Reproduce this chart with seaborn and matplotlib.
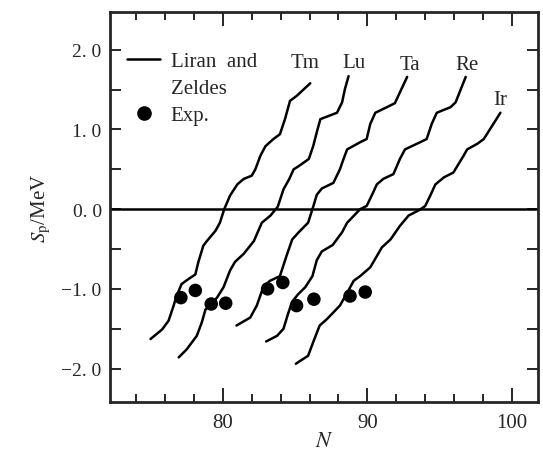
import numpy as np
import pandas as pd
import seaborn as sns
import matplotlib.pyplot as plt
from matplotlib.lines import Line2D

# Liran-Zeldes curves (N, Sp in MeV)
tm_n = [75.0, 75.8, 76.25, 76.6, 76.8, 77.15, 77.6, 78.1, 78.3, 78.65, 78.9, 79.5, 79.8, 80.1,
        80.5, 81.0, 81.45, 82.0, 82.25, 82.6, 82.95, 83.5, 83.95, 84.3, 84.65, 85.1, 86.05]
tm_sp = [-1.63, -1.51, -1.40, -1.21, -1.09, -0.94, -0.88, -0.82, -0.67, -0.46, -0.40, -0.27, -0.17, 0.0,
         0.17, 0.31, 0.38, 0.42, 0.50, 0.67, 0.79, 0.88, 0.94, 1.13, 1.36, 1.42, 1.58]

lu_n = [76.95, 77.5, 78.2, 78.55, 78.8, 79.1, 79.6, 80.05, 80.5, 80.85, 81.45, 82.15, 82.7, 83.3,
        83.8, 84.2, 84.6, 84.9, 85.25, 85.95, 86.25, 86.55, 86.75, 87.9, 88.25, 88.45, 88.7]
lu_sp = [-1.86, -1.76, -1.59, -1.42, -1.26, -1.21, -1.11, -0.98, -0.77, -0.66, -0.56, -0.40, -0.17, -0.08,
         0.03, 0.25, 0.38, 0.50, 0.54, 0.63, 0.79, 1.00, 1.13, 1.21, 1.34, 1.51, 1.67]

ta_n = [80.95, 81.9, 82.35, 82.8, 83.25, 83.95, 84.4, 84.8, 85.25, 85.9, 86.2, 86.5, 86.85, 87.65,
        88.1, 88.35, 88.6, 89.5, 89.95, 90.2, 90.55, 91.35, 91.9, 92.75]
ta_sp = [-1.46, -1.36, -1.21, -0.98, -0.90, -0.84, -0.59, -0.38, -0.29, -0.17, 0.0, 0.18, 0.26, 0.33,
         0.50, 0.63, 0.75, 0.84, 0.88, 1.07, 1.21, 1.28, 1.33, 1.66]

re_n = [83.0, 83.75, 84.2, 84.5, 84.8, 85.2, 85.7, 86.2, 86.5, 86.85, 87.6, 88.25, 88.6, 89.5,
        89.95, 90.4, 90.65, 91.1, 91.8, 92.25, 92.6, 93.65, 94.1, 94.45, 94.8, 95.75, 96.1, 96.8]
re_sp = [-1.66, -1.59, -1.50, -1.32, -1.16, -1.07, -0.98, -0.84, -0.64, -0.53, -0.45, -0.29, -0.17, 0.0,
         0.04, 0.21, 0.31, 0.38, 0.44, 0.63, 0.75, 0.84, 0.88, 1.07, 1.21, 1.28, 1.34, 1.66]

ir_n = [85.05, 85.9, 86.25, 86.7, 87.2, 88.1, 88.6, 89.05, 89.5, 90.2, 90.65, 91.0, 91.6, 92.25,
        92.85, 93.6, 94.0, 94.35, 94.7, 95.3, 95.95, 96.65, 96.9, 97.6, 98.05, 99.2]
ir_sp = [-1.94, -1.84, -1.67, -1.46, -1.38, -1.21, -1.05, -0.90, -0.84, -0.73, -0.59, -0.48, -0.38, -0.21,
         -0.08, -0.01, 0.04, 0.17, 0.31, 0.40, 0.46, 0.67, 0.75, 0.82, 0.88, 1.21]

# experimental points
exp_n = [77.1, 78.1, 79.2, 80.2, 83.1, 84.15, 85.1, 86.3, 88.8, 89.85]
exp_sp = [-1.11, -1.02, -1.19, -1.18, -1.00, -0.92, -1.21, -1.13, -1.09, -1.04]

names = ["Tm", "Lu", "Ta", "Re", "Ir"]
label_n = [85.7, 89.05, 92.95, 96.9, 99.2]
label_sp = [1.84, 1.84, 1.82, 1.82, 1.38]

y_ticks = [-2.0, -1.0, 0.0, 1.0, 2.0]
y_ticklabels = ["\u22122. 0", "\u22121. 0", "0. 0", "1. 0", "2. 0"]
x_ticks = [80, 90, 100]

sns.set_style("ticks")
plt.rcParams["font.family"] = ["Liberation Serif", "DejaVu Serif"]
plt.rcParams["mathtext.fontset"] = "stix"

all_n = [tm_n, lu_n, ta_n, re_n, ir_n]
all_sp = [tm_sp, lu_sp, ta_sp, re_sp, ir_sp]
df = pd.concat([pd.DataFrame({"N": n, "Sp": sp, "nucleus": name})
                for n, sp, name in zip(all_n, all_sp, names)], ignore_index=True)
df_exp = pd.DataFrame({"N": exp_n, "Sp": exp_sp})

fig = plt.figure(figsize=(5.43, 4.60), dpi=100)
ax = fig.add_axes([0.2026, 0.1239, 0.7882, 0.8471])

sns.lineplot(data=df, x="N", y="Sp", units="nucleus", estimator=None, sort=False,
             color="black", lw=1.8, ax=ax)
sns.scatterplot(data=df_exp, x="N", y="Sp", color="black", s=95, edgecolor="none", ax=ax)
ax.axhline(0, color="black", lw=1.8)

for nm, xn, ys in zip(names, label_n, label_sp):
    ax.text(xn, ys, nm, ha="center", va="center", fontsize=15)

# legend
h_line = Line2D([], [], color="black", lw=1.8)
h_none = Line2D([], [], lw=0)
h_dot = Line2D([], [], color="black", marker="o", ls="none", markersize=9.5)
ax.legend([h_line, h_none, h_dot], ["Liran  and", "Zeldes", "Exp."], loc="upper left",
          bbox_to_anchor=(0.02, 0.92), frameon=False, fontsize=15, handlelength=1.6,
          handletextpad=0.5, labelspacing=0.35, borderaxespad=0)

ax.set_xlim(72.2, 101.8)
ax.set_ylim(-2.42, 2.47)
ax.set_xticks(x_ticks)
ax.set_xticks(np.arange(74, 101, 2), minor=True)
ax.set_yticks(y_ticks)
ax.set_yticklabels(y_ticklabels)
ax.set_yticks(np.arange(-2.0, 2.01, 0.5), minor=True)
ax.tick_params(axis="both", which="both", direction="in", top=True, right=True, width=1.4)
ax.tick_params(axis="x", which="major", length=10, labelsize=15, pad=8)
ax.tick_params(axis="x", which="minor", length=6)
ax.tick_params(axis="y", which="both", length=8, labelsize=14, pad=6)
for sp in ax.spines.values():
    sp.set_linewidth(2)

ax.set_xlabel("$N$", fontsize=16, labelpad=0)
ax.set_ylabel(r"$S_{\rm p}$/MeV", fontsize=15, labelpad=6)

fig.savefig("out.png", dpi=100)
